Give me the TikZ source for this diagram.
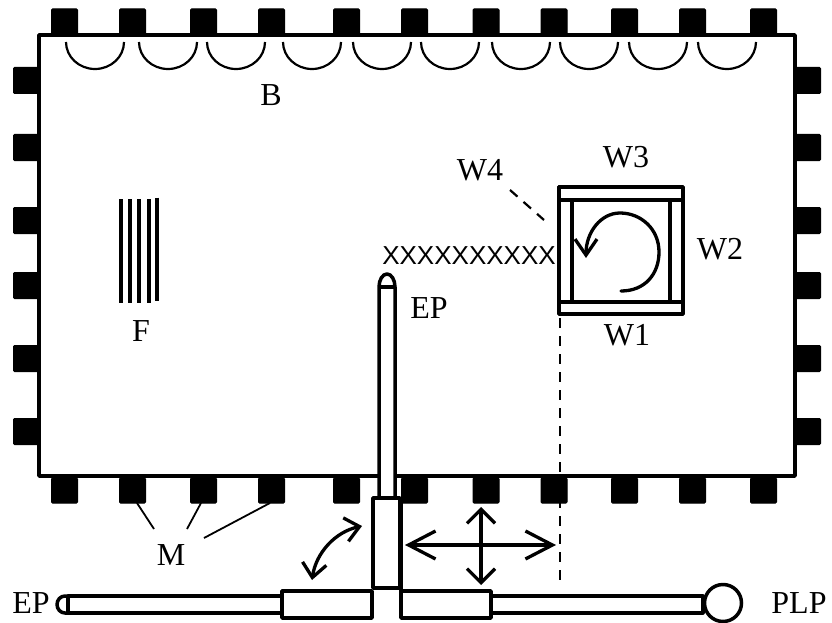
\documentclass[tikz,border=0pt]{standalone}
\usepackage{fontspec}
\setmainfont{Liberation Serif}
\newfontfamily\beamfont{Liberation Sans}
\usetikzlibrary{arrows.meta}
\tikzstyle{magnet} = [fill=black, draw=black, line width=1pt, rounded corners=1pt, minimum width=26pt, minimum height=25pt, inner sep=0pt]
\tikzstyle{sidemagnet} = [magnet, minimum width=25pt, minimum height=26pt]
\tikzstyle{wire} = [draw, line width=3.5pt, line join=round]
\tikzstyle{slab} = [draw, fill=white, line width=3.5pt, line join=round]
\tikzstyle{pointer} = [draw, line width=1.8pt]
\tikzstyle{guide} = [draw, line width=2.2pt, dash pattern=on 10pt off 8pt]
\tikzstyle{motion} = [draw, line width=3.3pt, line cap=round]
\tikzstyle{lab} = [anchor=base, inner sep=0pt, font=\fontsize{32}{32}\selectfont]
\begin{document}
\begin{tikzpicture}[x=1pt, y=-1pt]
			\useasboundingbox (0,0) rectangle (832,623);

			% magnets along the chamber
			\foreach \px in {64.5,132.5,203.5,271.5,346.5,414.5,486,554,624.5,692.5,763.5} {
				\node [magnet] at (\px, 21.5) {};
				\node [magnet] at (\px, 490.5) {};
			}
			\foreach \py in {80.5,147.5,220.5,285.5,358.5,431.5} {
				\node [sidemagnet] at (26, \py) {};
				\node [sidemagnet] at (808, \py) {};
			}
			\draw [wire, fill=white] (39,35) rectangle (795,476);

			% beam dump
			\foreach \px in {66,139,207,283,353,421,492,560,629,698} {
				\draw [line width=2.2pt] (\px,42) arc [start angle=180, end angle=0, x radius=29, y radius=27];
			}

			% foil stack
			\foreach \px in {120.5,129.5,139,148.5} {
				\draw [line width=4pt] (\px,199) -- (\px,303);
			}
			\draw [line width=4pt] (157,197.5) -- (157,301);

			% wien filter
			\node [slab, minimum width=124pt, minimum height=127pt, inner sep=0pt] (W) at (621,250.5) {};
			\node [slab, minimum width=124pt, minimum height=13pt, inner sep=0pt] (W3bar) at (621,193.5) {};
			\node [slab, minimum width=124pt, minimum height=12pt, inner sep=0pt] (W1bar) at (621,308) {};
			\coordinate (a) at (572,200);
			\coordinate (b) at (572,302);
			\coordinate (c) at (670,200);
			\coordinate (d) at (670,302);
			\path [wire] (a) -- (b);
			\path [wire] (c) -- (d);
			\draw [motion, -{Straight Barb[length=16pt, width=22pt]}] (621,291) .. controls (645,291) and (659,274) .. (659,252) .. controls (659,229) and (641,213) .. (620,213) .. controls (601,213) and (586,232) .. (586,258);

			% beam
			\node [inner sep=0pt, anchor=base, font=\fontsize{26}{26}\selectfont\beamfont] (beam) at (469,264) {XXXXXXXXXX};

			% vertical probe
			\draw [slab] (379,502) -- (379,287) arc [start angle=180, end angle=360, x radius=8, y radius=13] -- (395,502);
			\draw [wire] (379,287) -- (395,287);
			\node [slab, minimum width=27pt, minimum height=90pt, inner sep=0pt] (V) at (386.5,543) {};

			% horizontal probes
			\node [slab, minimum width=90pt, minimum height=27pt, inner sep=0pt] (L) at (327,604.5) {};
			\node [slab, minimum width=90pt, minimum height=27pt, inner sep=0pt] (R) at (446,604.5) {};
			\path [wire] (401,498) -- (401,591);
			\draw [wire] (L.west |- 0,596) -- (68,596) -- (68,613) -- (L.west |- 0,613);
			\draw [wire] (68,596) -- (65,596) arc [start angle=270, end angle=90, x radius=8, y radius=8.5] -- (68,613);
			\node [slab, circle, minimum size=37pt, inner sep=0pt] (PLP) at (723,603) {};
			\draw [wire] (R.east |- 0,596) -- (PLP.west |- 0,596) -- (PLP.west |- 0,613) -- (R.east |- 0,613);

			% dashed guides
			\path [guide] (560,318) -- (560,582);
			\path [guide] (510,190) -- (544,220);

			% motion arrows
			\draw [motion, {Straight Barb[length=14pt, width=24pt]}-{Straight Barb[length=14pt, width=24pt]}] (312,580) .. controls (316,553) and (335,532) .. (362,526);
			\draw [motion, {Straight Barb[length=27pt, width=28pt]}-{Straight Barb[length=27pt, width=28pt]}] (405,545) -- (556,545);
			\draw [motion, {Straight Barb[length=14pt, width=28pt]}-{Straight Barb[length=14pt, width=28pt]}] (481,507) -- (481,585);

			% magnet pointers
			\coordinate (m1) at (137,503);
			\coordinate (m2) at (201,503);
			\coordinate (m3) at (270,503);
			\path [pointer] (m1) -- (154,529);
			\path [pointer] (m2) -- (187,529);
			\path [pointer] (m3) -- (204,538);

			% labels
			\node [lab] (Bl) at (271,106) {B};
			\node [lab] (Fl) at (141,341) {F};
			\node [lab] (W1l) at (627,345) {W1};
			\node [lab] (W2l) at (720,259) {W2};
			\node [lab] (W3l) at (626,167) {W3};
			\node [lab] (W4l) at (480,180) {W4};
			\node [lab] (EPa) at (429,318) {EP};
			\node [lab] (EPb) at (31,613) {EP};
			\node [lab] (Ml) at (171,565) {M};
			\node [lab] (PLPl) at (799,613) {PLP};
		\end{tikzpicture}
\end{document}
